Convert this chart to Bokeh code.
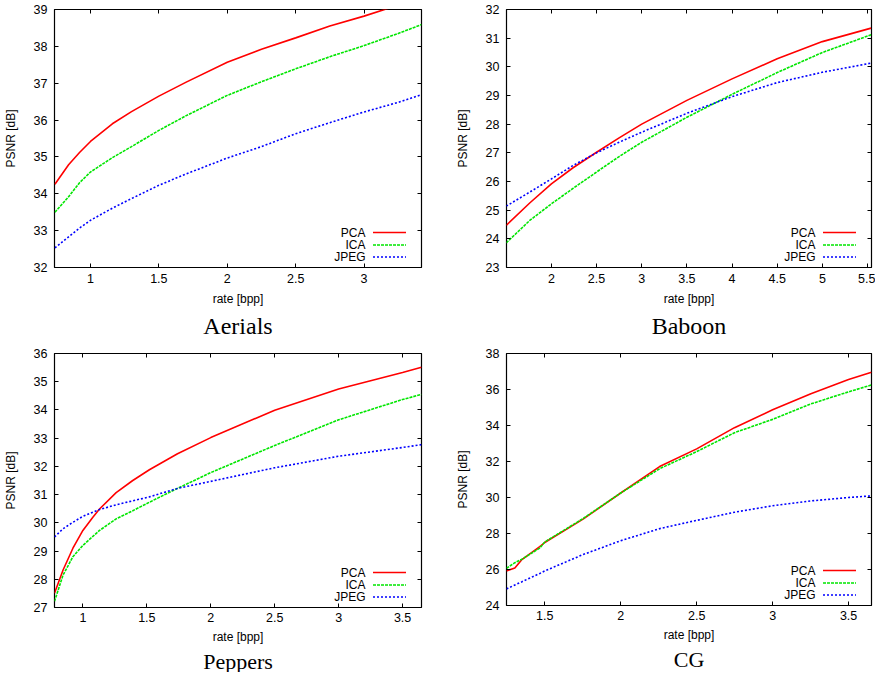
from bokeh.plotting import figure
from bokeh.models import (Range1d, LinearAxis, FixedTicker, Title, Label, Arrow,
                          CustomLabelingPolicy)
from bokeh.layouts import column, row
from bokeh.embed import file_html
from bokeh.resources import INLINE

# ---------------- data ----------------
SERIES = ["PCA", "ICA", "JPEG"]

AER_RATE = [0.74, 0.84, 0.92, 1.0, 1.16, 1.3, 1.5, 1.7, 2.0, 2.25, 2.5, 2.75, 3.0, 3.25, 3.42]
AER_PCA = [34.26, 34.79, 35.12, 35.42, 35.9, 36.23, 36.65, 37.03, 37.57, 37.92, 38.23, 38.55, 38.82, 39.12, 39.3]
AER_ICA = [33.5, 33.92, 34.3, 34.59, 34.98, 35.28, 35.72, 36.12, 36.67, 37.04, 37.39, 37.72, 38.02, 38.35, 38.59]
AER_JPEG = [32.53, 32.83, 33.07, 33.28, 33.61, 33.87, 34.23, 34.54, 34.97, 35.28, 35.63, 35.93, 36.22, 36.48, 36.69]

BAB_RATE = [1.5, 1.76, 2.0, 2.24, 2.5, 2.75, 3.0, 3.5, 4.0, 4.5, 5.0, 5.54]
BAB_PCA = [24.47, 25.25, 25.92, 26.48, 27.02, 27.52, 28.0, 28.83, 29.58, 30.28, 30.88, 31.35]
BAB_ICA = [23.86, 24.64, 25.22, 25.76, 26.33, 26.87, 27.37, 28.24, 29.04, 29.8, 30.5, 31.12]
BAB_JPEG = [25.14, 25.63, 26.09, 26.56, 27.0, 27.37, 27.72, 28.38, 28.96, 29.45, 29.81, 30.13]

PEP_RATE = [0.778, 0.845, 0.922, 1.0, 1.078, 1.13, 1.26, 1.39, 1.52, 1.74, 2.0, 2.5, 3.0, 3.5, 3.648]
PEP_PCA = [27.51, 28.33, 29.1, 29.73, 30.2, 30.49, 31.07, 31.5, 31.88, 32.45, 33.02, 33.99, 34.74, 35.33, 35.51]
PEP_ICA = [27.22, 28.15, 28.8, 29.2, 29.52, 29.73, 30.14, 30.43, 30.73, 31.22, 31.78, 32.74, 33.65, 34.37, 34.55]
PEP_JPEG = [29.5, 29.79, 30.02, 30.23, 30.38, 30.47, 30.64, 30.78, 30.92, 31.22, 31.47, 31.95, 32.36, 32.67, 32.77]

CG_RATE = [1.248, 1.303, 1.347, 1.467, 1.5, 1.752, 2.0, 2.256, 2.5, 2.749, 3.0, 3.252, 3.5, 3.651]
CG_PCA = [25.92, 26.08, 26.53, 27.27, 27.5, 28.8, 30.25, 31.72, 32.7, 33.88, 34.87, 35.77, 36.56, 36.96]
CG_ICA = [26.07, 26.38, 26.56, 27.19, 27.53, 28.83, 30.25, 31.6, 32.55, 33.6, 34.34, 35.2, 35.87, 36.25]
CG_JPEG = [24.92, 25.14, 25.31, 25.78, 25.92, 26.83, 27.6, 28.27, 28.73, 29.18, 29.54, 29.81, 30.0, 30.09]

AER_XTICKS = [1, 1.5, 2, 2.5, 3]
AER_YTICKS = [32, 33, 34, 35, 36, 37, 38, 39]
BAB_XTICKS = [2, 2.5, 3, 3.5, 4, 4.5, 5, 5.5]
BAB_YTICKS = [23, 24, 25, 26, 27, 28, 29, 30, 31, 32]
PEP_XTICKS = [1, 1.5, 2, 2.5, 3, 3.5]
PEP_YTICKS = [27, 28, 29, 30, 31, 32, 33, 34, 35, 36]
CG_XTICKS = [1.5, 2, 2.5, 3, 3.5]
CG_YTICKS = [24, 26, 28, 30, 32, 34, 36, 38]

# ---------------- style ----------------
COLORS = ["#ff0000", "#00e600", "#0000ff"]
DASHES = ["solid", "3 1", "2 2"]
SANS = "Liberation Sans"
SERIF = "Liberation Serif"

HIDE_CODE = """
try { return indices.constructor.all_unset(indices.size) } catch (e) { return [] }
"""


def style_axis(ax, ticks, labelled, label=None):
    ax.ticker = FixedTicker(ticks=ticks, minor_ticks=[])
    ax.major_tick_in = 4
    ax.major_tick_out = 0
    ax.major_tick_line_color = "black"
    ax.major_tick_line_width = 1
    ax.minor_tick_line_color = None
    ax.axis_line_color = None
    if labelled:
        ax.major_label_overrides = {t: f"{t:g}" for t in ticks}
        ax.major_label_text_font = SANS
        ax.major_label_text_font_size = "12.5px"
        ax.major_label_text_color = "black"
        ax.axis_label = label
        ax.axis_label_text_font = SANS
        ax.axis_label_text_font_size = "12px"
        ax.axis_label_text_font_style = "normal"
        ax.axis_label_text_color = "black"
    else:
        ax.major_label_policy = CustomLabelingPolicy(code=HIDE_CODE)
        ax.major_label_text_font_size = "1px"
        ax.major_label_standoff = 0
        ax.axis_label = None


def make(name, rate, ys, xr, yr, xticks, yticks, fw, fh, bl, br, bt, bb,
         lstand, alstand, tsize, tstand):
    p = figure(frame_width=fw, frame_height=fh,
               x_range=Range1d(*xr), y_range=Range1d(*yr),
               output_backend="svg", toolbar_location=None,
               x_axis_location=None, y_axis_location=None,
               min_border_left=bl, min_border_right=br,
               min_border_top=bt, min_border_bottom=bb)
    p.grid.visible = False
    p.outline_line_color = "black"
    p.outline_line_width = 1.2
    p.background_fill_color = "white"
    p.border_fill_color = "white"

    xb = LinearAxis()
    style_axis(xb, xticks, True, "rate [bpp]")
    xb.major_label_standoff = lstand
    xb.axis_label_standoff = alstand
    p.add_layout(xb, "below")
    yl = LinearAxis()
    style_axis(yl, yticks, True, "PSNR [dB]")
    yl.major_label_standoff = 7
    yl.axis_label_standoff = 13
    p.add_layout(yl, "left")
    xt = LinearAxis()
    style_axis(xt, xticks, False)
    p.add_layout(xt, "above")
    yr_ax = LinearAxis()
    style_axis(yr_ax, yticks, False)
    p.add_layout(yr_ax, "right")

    for s, y, c, d in zip(SERIES, ys, COLORS, DASHES):
        p.line(rate, y, line_color=c, line_width=1.6, line_dash=d)

    # gnuplot-style key: text right-aligned, sample line on its right
    rows_y = [35, 22.5, 10.5]
    for s, c, d, yy in zip(SERIES, COLORS, DASHES, rows_y):
        p.add_layout(Label(x=fw - 56, y=yy, x_units="screen", y_units="screen",
                           text=s, text_align="right", text_baseline="middle",
                           text_font=SANS, text_font_size="12px", text_color="black"))
        p.add_layout(Arrow(x_start=fw - 48.5, y_start=yy, x_end=fw - 15.5, y_end=yy,
                           start_units="screen", end_units="screen", end=None,
                           line_color=c, line_width=1.6, line_dash=d))

    t = Title(text=name, align="center", text_font=SERIF, text_font_size=tsize,
              text_font_style="normal", text_color="black", standoff=tstand)
    p.add_layout(t, "below")
    return p


pA = make("Aerials", AER_RATE, [AER_PCA, AER_ICA, AER_JPEG], (0.737, 3.42), (32, 39),
          AER_XTICKS, AER_YTICKS, 367, 258, 47, 18, 9, 73, 6, 6, "24px", 4)
pB = make("Baboon", BAB_RATE, [BAB_PCA, BAB_ICA, BAB_JPEG], (1.503, 5.544), (23, 32),
          BAB_XTICKS, BAB_YTICKS, 365, 258, 67, 0, 9, 73, 6, 6, "24px", 4)
pC = make("Peppers", PEP_RATE, [PEP_PCA, PEP_ICA, PEP_JPEG], (0.778, 3.648), (27, 36),
          PEP_XTICKS, PEP_YTICKS, 367, 254, 47, 18, 11, 67, 5, 5, "22px", 0)
pD = make("CG", CG_RATE, [CG_PCA, CG_ICA, CG_JPEG], (1.248, 3.651), (24, 38),
          CG_XTICKS, CG_YTICKS, 365, 252, 67, 0, 13, 67, 5, 5, "22px", 0)

layout = column(row(pA, pB), row(pC, pD))
open("out.html", "w").write(file_html(layout, INLINE))
